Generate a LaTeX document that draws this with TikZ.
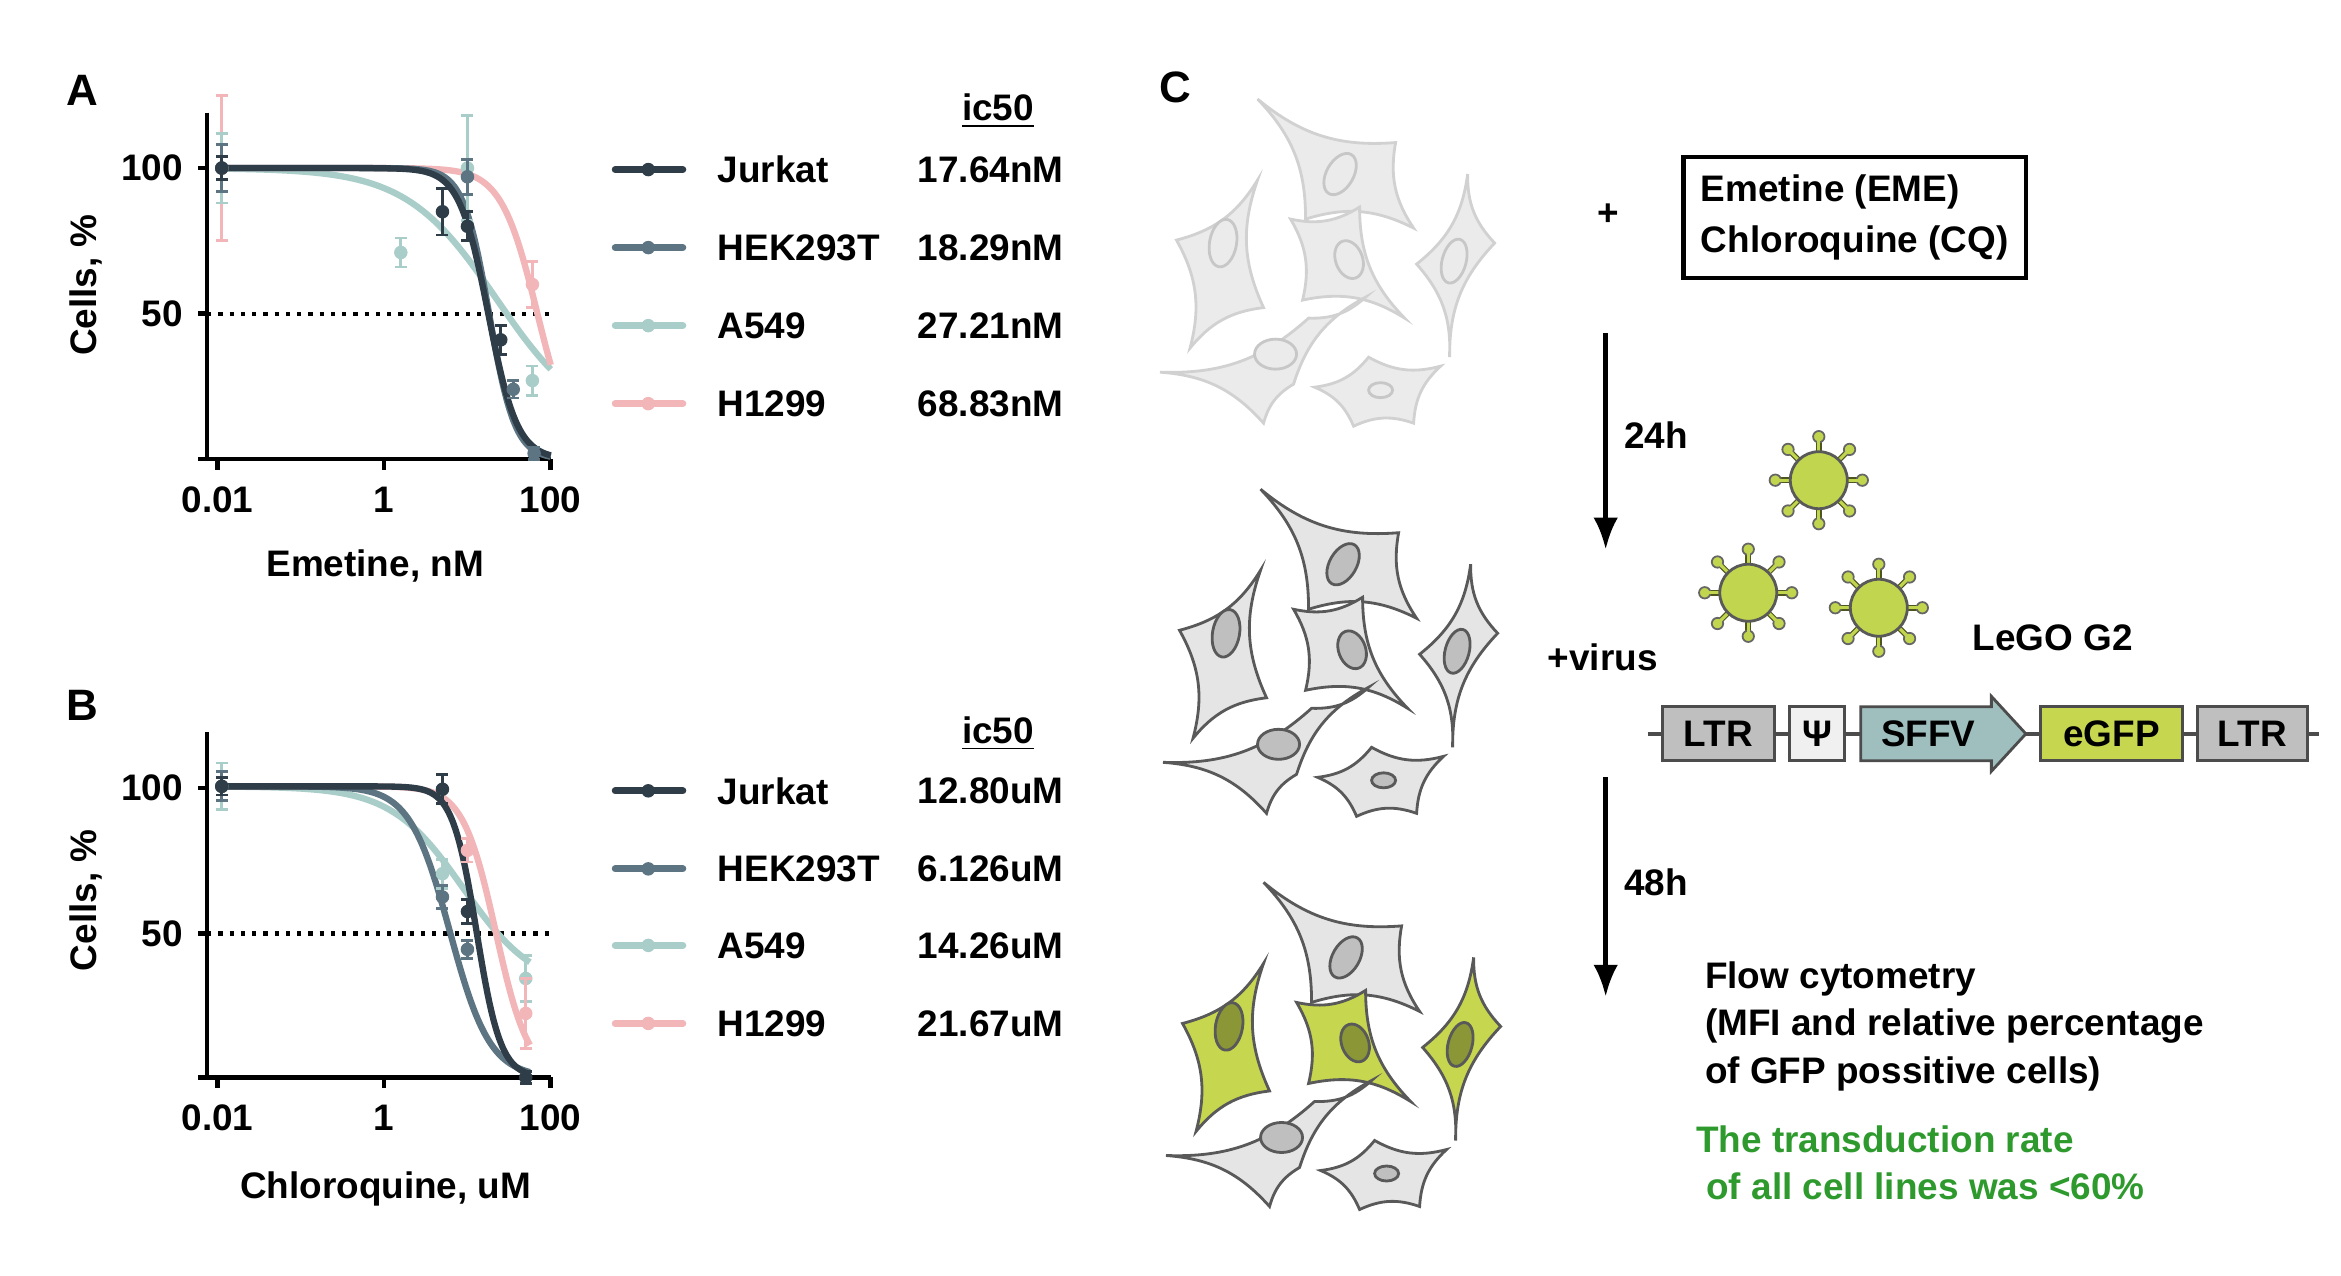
\documentclass[tikz,border=0pt]{standalone}
\usepackage{fontspec}
\setmainfont{Liberation Sans}
\usetikzlibrary{arrows.meta}
\definecolor{cJ}{HTML}{2E3D48}
\definecolor{cH}{HTML}{5D7582}
\definecolor{cA}{HTML}{A9CDC8}
\definecolor{cP}{HTML}{F2B5B8}
\definecolor{vir}{HTML}{C2D54E}
\definecolor{gfp}{HTML}{C7D64F}
\definecolor{sffv}{HTML}{9FBFBF}
\definecolor{txtg}{HTML}{2E9A2E}
\newcommand\curveplot[6]{% color, logic50, hill, maxlog, base y, bottom%
  \draw[#1,line width=1.8pt] plot[domain=-2:#4,samples=70,smooth] ({256+55.5*\x},{#5-1.94*(#6+(100-#6)/(1+pow(10,#3*(\x-#2))))});}
\newcommand\dpt[5]{% color, x(log), pct, err, base
  \draw[#1,line width=0.8pt] ({256+55.5*#2},{#5-1.94*(#3-#4)}) -- ({256+55.5*#2},{#5-1.94*(#3+#4)});
  \draw[#1,line width=0.8pt] ({256+55.5*#2-4},{#5-1.94*(#3-#4)}) -- ({256+55.5*#2+4},{#5-1.94*(#3-#4)});
  \draw[#1,line width=0.8pt] ({256+55.5*#2-4},{#5-1.94*(#3+#4)}) -- ({256+55.5*#2+4},{#5-1.94*(#3+#4)});
  \fill[#1] ({256+55.5*#2},{#5-1.94*#3}) circle (4.5);}
\begin{document}
\begin{tikzpicture}[x=0.015cm,y=-0.015cm,font=\fontsize{10.5}{12.5}\selectfont\bfseries,
  lbl/.style={font=\fontsize{12.5}{14}\selectfont\bfseries},
  axis/.style={line width=1.3pt,black},
  leg/.style={line width=2pt,line cap=round},
  vbox/.style={draw=black!70,line width=0.8pt,minimum height=0.54cm,inner sep=0pt},
  cellA/.style={draw=black!18,fill=black!8,line width=0.8pt},
  nucA/.style={draw=black!22,fill=black!8,line width=0.8pt},
  cellB/.style={draw=black!65,fill=black!10,line width=0.8pt},
  nucB/.style={draw=black!65,fill=black!25,line width=0.8pt},
  cellG/.style={draw=black!65,fill=gfp,line width=0.8pt},
  nucG/.style={draw=black!65,fill=black!30!gfp,line width=0.8pt},
  cc/.style={bend right=22}]
\useasboundingbox (0,0) rectangle (1560,850);
% ---------- Panel A ----------
\node[lbl] (labA) at (55,60) {A};
\draw[axis] (138,75) -- (138,306) -- (367,306);
\foreach \yy/\t in {112/100,209/50} {\draw[axis] (132,\yy) -- (138,\yy); \node[anchor=east] at (130,\yy) {\t};}
\draw[axis] (132,306) -- (138,306);
\foreach \xx/\t in {145/0.01,256/1,367/100} {\draw[axis] (\xx,306) -- (\xx,313); \node[anchor=north] at (\xx,316) {\t};}
\draw[line width=1.2pt,dotted] (138,209) -- (367,209);
\node[rotate=90] (yA) at (57,190) {Cells, \%};
\node (xA) at (250,377) {Emetine, nM};
\curveplot{cA}{1.35}{0.8}{2}{306}{10}
\curveplot{cP}{1.84}{2.0}{2}{306}{0}
\curveplot{cH}{1.26}{2.8}{2}{306}{0}
\curveplot{cJ}{1.25}{2.5}{2}{306}{0}
\dpt{cP}{-1.95}{100}{25}{306}
\dpt{cA}{-1.95}{100}{12}{306}
\dpt{cH}{-1.95}{100}{8}{306}
\dpt{cJ}{-1.95}{100}{4}{306}
\dpt{cA}{0.2}{71}{5}{306}
\dpt{cA}{1.0}{100}{18}{306}
\dpt{cH}{1.0}{97}{6}{306}
\dpt{cJ}{0.7}{85}{8}{306}
\dpt{cJ}{1.0}{80}{5}{306}
\dpt{cP}{1.78}{60}{8}{306}
\dpt{cA}{1.78}{27}{5}{306}
\dpt{cJ}{1.4}{41}{5}{306}
\dpt{cH}{1.55}{24}{3}{306}
\dpt{cH}{1.8}{2}{2}{306}
% legend A
\node (icA) at (665,74) {\underline{ic50}};
\foreach \yy/\c/\n/\v in {113/cJ/Jurkat/17.64nM,165/cH/HEK293T/18.29nM,217/cA/A549/27.21nM,269/cP/H1299/68.83nM}{
  \draw[leg,\c] (410,\yy) -- (455,\yy); \fill[\c] (432,\yy) circle (4.5);
  \node[anchor=west] at (470,\yy) {\n}; \node[anchor=east] at (717,\yy) {\v};}
% ---------- Panel B ----------
\node[lbl] (labB) at (55,470) {B};
\draw[axis] (138,488) -- (138,718) -- (367,718);
\foreach \yy/\t in {525/100,622/50} {\draw[axis] (132,\yy) -- (138,\yy); \node[anchor=east] at (130,\yy) {\t};}
\draw[axis] (132,718) -- (138,718);
\foreach \xx/\t in {145/0.01,256/1,367/100} {\draw[axis] (\xx,718) -- (\xx,725); \node[anchor=north] at (\xx,728) {\t};}
\draw[line width=1.2pt,dotted] (138,622) -- (367,622);
\node[rotate=90] (yB) at (57,600) {Cells, \%};
\node (xB) at (257,792) {Chloroquine, uM};
\curveplot{cA}{0.95}{1.0}{1.75}{718}{30}
\curveplot{cP}{1.34}{2.2}{1.75}{718}{0}
\curveplot{cH}{0.79}{1.8}{1.75}{718}{0}
\curveplot{cJ}{1.11}{3.0}{1.75}{718}{0}
\dpt{cA}{-1.95}{100}{8}{718}
\dpt{cH}{-1.95}{100}{5}{718}
\dpt{cJ}{-1.95}{100}{3}{718}
\dpt{cJ}{0.7}{99}{5}{718}
\dpt{cA}{0.7}{70}{5}{718}
\dpt{cH}{0.7}{62}{4}{718}
\dpt{cP}{1.0}{78}{4}{718}
\dpt{cJ}{1.0}{57}{4}{718}
\dpt{cH}{1.0}{44}{3}{718}
\dpt{cA}{1.7}{34}{8}{718}
\dpt{cP}{1.7}{22}{12}{718}
\dpt{cJ}{1.7}{0}{2}{718}
% legend B
\node (icB) at (665,489) {\underline{ic50}};
\foreach \yy/\c/\n/\v in {527/cJ/Jurkat/12.80uM,579/cH/HEK293T/6.126uM,630/cA/A549/14.26uM,682/cP/H1299/21.67uM}{
  \draw[leg,\c] (410,\yy) -- (455,\yy); \fill[\c] (432,\yy) circle (4.5);
  \node[anchor=west] at (470,\yy) {\n}; \node[anchor=east] at (717,\yy) {\v};}
% ---------- Panel C ----------
\node[lbl] (labC) at (783,58) {C};
\newcommand\cellgroup[8]{%
  \begin{scope}[shift={(#1,#2)}]
  \draw[#3] (838,66) to[cc] (930,95) to[cc] (942,152) to[cc] (870,146) to[cc] cycle;
  \draw[#4] (838,120) to[cc] (842,205) to[cc] (793,232) to[cc] (784,160) to[cc] cycle;
  \draw[#5] (860,146) to[cc] (906,138) to[cc] (936,212) to[cc] (868,200) to[cc] cycle;
  \draw[#6] (978,116) to[cc] (996,162) to[cc] (966,238) to[cc] (944,176) to[cc] cycle;
  \draw[#7] (773,248) to[cc] (872,212) to[cc] (910,198) to[cc] (862,256) to[cc] (842,282) to[cc] cycle;
  \draw[#8] (876,258) to[cc] (912,238) to[cc] (960,244) to[cc] (942,282) to[cc] (902,284) to[cc] cycle;
  \end{scope}}
\newcommand\nucgroup[8]{%
  \begin{scope}[shift={(#1,#2)}]
  \draw[#3] (893,116) ellipse [x radius=9,y radius=15,rotate=-30];
  \draw[#4] (815,162) ellipse [x radius=9,y radius=16,rotate=-10];
  \draw[#5] (899,173) ellipse [x radius=9,y radius=13,rotate=20];
  \draw[#6] (969,174) ellipse [x radius=8,y radius=15,rotate=-15];
  \draw[#7] (850,236) ellipse [x radius=14,y radius=10];
  \draw[#8] (920,260) ellipse [x radius=8,y radius=5];
  \end{scope}}
\cellgroup{0}{0}{cellA}{cellA}{cellA}{cellA}{cellA}{cellA}
\nucgroup{0}{0}{nucA}{nucA}{nucA}{nucA}{nucA}{nucA}
\cellgroup{2}{260}{cellB}{cellB}{cellB}{cellB}{cellB}{cellB}
\nucgroup{2}{260}{nucB}{nucB}{nucB}{nucB}{nucB}{nucB}
\cellgroup{4}{522}{cellB}{cellG}{cellG}{cellG}{cellB}{cellB}
\nucgroup{4}{522}{nucB}{nucG}{nucG}{nucG}{nucB}{nucB}
% steps
\node (plus) at (1072,143) {+};
\node[draw,line width=1.2pt,align=left,inner sep=5pt] (drugs) at (1236,145) {Emetine (EME)\\[2pt]Chloroquine (CQ)};
\coordinate (a1s) at (1070,222); \coordinate (a1e) at (1070,366);
\draw[line width=1.3pt,-{Latex[length=9pt,width=7pt]}] (a1s) -- (a1e);
\node[anchor=west] (h24) at (1074,290) {24h};
\node (pv) at (1068,438) {+virus};
\coordinate (a2s) at (1070,518); \coordinate (a2e) at (1070,664);
\draw[line width=1.3pt,-{Latex[length=9pt,width=7pt]}] (a2s) -- (a2e);
\node[anchor=west] (h48) at (1074,588) {48h};
% viruses
\foreach \cx/\cy in {1212/320,1165/395,1252/405}{
  \foreach \a in {0,45,...,315}{
    \draw[black!60!vir,line width=1.6pt] ({\cx+18*cos(\a)},{\cy+18*sin(\a)}) -- ({\cx+28*cos(\a)},{\cy+28*sin(\a)});
    \draw[black!60,fill=vir,line width=0.5pt] ({\cx+29*cos(\a)},{\cy+29*sin(\a)}) circle (3.8);
    \draw[vir,line width=0.9pt] ({\cx+18*cos(\a)},{\cy+18*sin(\a)}) -- ({\cx+27*cos(\a)},{\cy+27*sin(\a)});}
  \draw[black!65,fill=vir,line width=0.8pt] (\cx,\cy) circle (19);}
\node (lego) at (1368,425) {LeGO G2};
% vector
\draw[black!70,line width=1.2pt] (1098,489) -- (1545,489);
\node[vbox,fill=black!25,minimum width=1.12cm] (ltr1) at (1145,489) {LTR};
\node[vbox,fill=black!6,minimum width=0.55cm] (psi) at (1211,489) {Ψ};
\draw[black!70,line width=0.8pt,fill=sffv] (1240,471) -- (1327,471) -- (1327,464) -- (1350,489) -- (1327,514) -- (1327,507) -- (1240,507) -- cycle;
\node (sffv) at (1285,489) {SFFV};
\node[vbox,fill=gfp,minimum width=1.42cm] (egfp) at (1407,489) {eGFP};
\node[vbox,fill=black!25,minimum width=1.1cm] (ltr2) at (1501,489) {LTR};
% readout
\node[anchor=west,align=left] (flow) at (1128,684) {Flow cytometry\\[1pt](MFI and relative percentage\\[1pt]of GFP possitive cells)};
\node[anchor=west,align=left,text=txtg] (rate) at (1122,775) {The transduction rate\\[1pt]\ of all cell lines was <60\%};
\end{tikzpicture}
\end{document}
